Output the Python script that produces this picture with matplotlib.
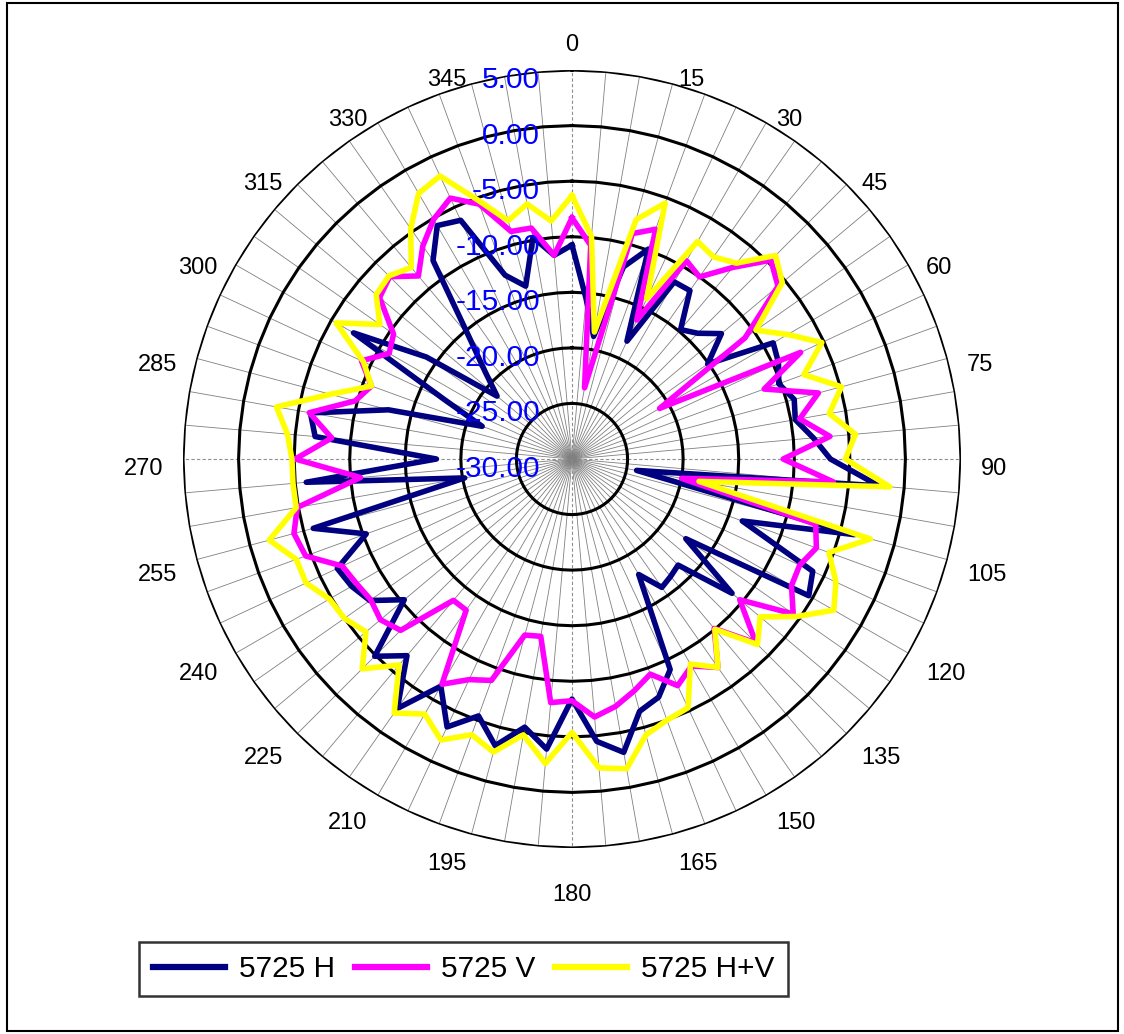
import numpy as np
import matplotlib
matplotlib.use('Agg')
import matplotlib.pyplot as plt
from matplotlib.lines import Line2D
from matplotlib.patches import Rectangle

# Angles (degrees, clockwise from north) - one point every 5 degrees
angles_deg = np.arange(0, 360, 5)

# 5725 H (dB)
h_vals = [-10.75, -15.5, -18.8, -12.1, -9.9, -18.3, -11.6, -11.5, -14.8, -14.0, -12.45, -15.1,
          -9.1, -9.5, -10.2, -9.3, -9.6, -8.2, -6.75, -2.3, -24.1, -3.7, -13.7, -6.1,
          -5.4, -17.5, -11.2, -16.5, -16.2, -15.9, -18.0, -9.1, -7.2, -6.5, -3.2, -4.5,
          -8.4, -3.8, -5.5, -3.3, -5.4, -3.4, -6.4, -2.6, -6.9, -4.9, -10.3, -7.8,
          -7.1, -6.7, -10.3, -5.9, -20.2, -6.0, -17.8, -6.8, -6.1, -12.9, -21.4, -17.3,
          -7.3, -14.0, -21.2, -19.0, -15.5, -8.2, -5.75, -6.3, -12.4, -13.9, -9.75, -11.6]

# 5725 V (dB)
v_vals = [-8.3, -10.7, -23.5, -9.0, -8.0, -16.2, -9.4, -10.0, -7.5, -4.7, -5.8, -11.0,
          -20.9, -7.3, -11.6, -7.05, -9.2, -6.7, -11.0, -6.4, -20.0, -7.3, -6.6, -7.4,
          -7.2, -5.7, -10.3, -6.6, -10.1, -7.1, -8.5, -7.5, -9.4, -8.4, -7.4, -6.7,
          -8.25, -8.0, -13.8, -13.6, -8.8, -8.1, -6.6, -13.4, -13.4, -8.2, -7.5, -7.9,
          -7.6, -7.2, -4.5, -4.1, -4.9, -10.9, -5.1, -8.3, -6.0, -9.8, -10.8, -9.1,
          -11.0, -10.4, -7.4, -6.8, -8.5, -6.6, -5.1, -4.1, -5.6, -8.8, -8.9, -11.6]

# 5725 H+V (dB)
hv_vals = [-6.3, -9.9, -18.4, -7.7, -5.5, -14.1, -7.4, -7.8, -7.0, -4.1, -5.3, -9.8,
           -7.6, -5.2, -7.8, -4.9, -6.5, -4.4, -5.4, -1.3, -18.4, -2.2, -5.4, -3.8,
           -2.8, -5.3, -7.9, -6.4, -10.0, -7.1, -8.7, -5.3, -5.0, -4.3, -1.7, -2.1,
           -5.4, -2.5, -4.8, -2.7, -3.6, -2.1, -3.5, -2.1, -5.8, -3.3, -5.8, -5.0,
           -4.8, -3.6, -3.6, -1.8, -4.8, -4.8, -4.8, -4.3, -3.0, -7.5, -10.8, -9.3,
           -5.5, -8.9, -7.0, -6.7, -7.5, -4.7, -2.4, -1.9, -5.2, -7.8, -6.7, -8.5]

series_names = ['5725 H', '5725 V', '5725 H+V']
series_colors = ['#000080', '#FF00FF', '#FFFF00']

# Radial axis
r_min, r_max = -30, 5
ring_values = [-25, -20, -15, -10, -5, 0, 5]
value_labels = ['5.00', '0.00', '-5.00', '-10.00', '-15.00', '-20.00', '-25.00', '-30.00']
value_label_pos = [5, 0, -5, -10, -15, -20, -25, -30]

# Category labels every 15 degrees
cat_angles = np.arange(0, 360, 15)
cat_labels = [str(a) for a in cat_angles]

plt.rcParams['font.family'] = ['Liberation Sans', 'DejaVu Sans']

fig = plt.figure(figsize=(11.24, 10.34), dpi=100)
ax = fig.add_axes([0.16281, 0.17988, 0.69217, 0.75242], projection='polar')
ax.set_theta_zero_location('N')
ax.set_theta_direction(-1)
ax.set_ylim(r_min, r_max)
ax.grid(False)
ax.set_xticks([])
ax.set_yticks([])
ax.spines['polar'].set_visible(False)

theta = np.deg2rad(angles_deg)
theta_closed = np.append(theta, theta[0])

# Spokes
for a, t in zip(angles_deg, theta):
    if a % 90 == 0:
        ax.plot([t, t], [r_min, r_max], color='#909090', lw=0.8, ls=(0, (3, 2)), zorder=1)
    else:
        ax.plot([t, t], [r_min, r_max], color='#808080', lw=0.6, zorder=1)

# Polygon rings
for rv in ring_values:
    ax.plot(theta_closed, np.full(len(theta_closed), rv), color='black', lw=2.2, zorder=2)

# Data series
for vals, name, col in zip([h_vals, v_vals, hv_vals], series_names, series_colors):
    vals = np.array(vals)
    ax.plot(theta_closed, np.append(vals, vals[0]), color=col, lw=4.0, label=name, zorder=3)

# Value labels along the vertical axis
for lab, rv in zip(value_labels, value_label_pos):
    ax.annotate(lab, xy=(0, rv), xytext=(-23, -7.2), textcoords='offset points',
                ha='right', va='center', color='#0000FF', fontsize=21.5, zorder=5)

# Category labels outside the outer ring (offsets in pixels, converted to points)
for a, lab in zip(cat_angles, cat_labels):
    s, c = np.sin(np.deg2rad(a)), np.cos(np.deg2rad(a))
    ha = 'left' if s > 0.01 else ('right' if s < -0.01 else 'center')
    va = 'center'
    dx_px = 20 * s
    if a == 0:
        va = 'bottom'
        dy_px = 14
    elif a == 180:
        va = 'top'
        dy_px = -36
    elif c > 0:
        dy_px = 14 * c - 10
    else:
        dy_px = 20 * c - 10
    ax.annotate(lab, xy=(np.deg2rad(a), r_max), xytext=(dx_px * 0.72, dy_px * 0.72),
                textcoords='offset points', ha=ha, va=va, fontsize=17, color='black',
                annotation_clip=False)

# Legend
handles = [Line2D([0], [0], color=c, lw=4.5) for c in series_colors]
leg = fig.legend(handles, series_names, loc='center', ncol=3,
                 bbox_to_anchor=(463.5 / 1124, 1 - 969 / 1034),
                 prop={'size': 21.4},
                 handlelength=2.42, handletextpad=0.47, columnspacing=0.67,
                 frameon=True, fancybox=False, borderpad=0.45, borderaxespad=0)
leg.get_frame().set_edgecolor('black')
leg.get_frame().set_linewidth(1.8)

# Outer border of the chart
fig.patches.append(Rectangle((7 / 1124, 3 / 1034), 1111 / 1124, 1028 / 1034,
                             transform=fig.transFigure, fill=False, edgecolor='black', lw=1.5))

fig.savefig('out.png', dpi=100)
